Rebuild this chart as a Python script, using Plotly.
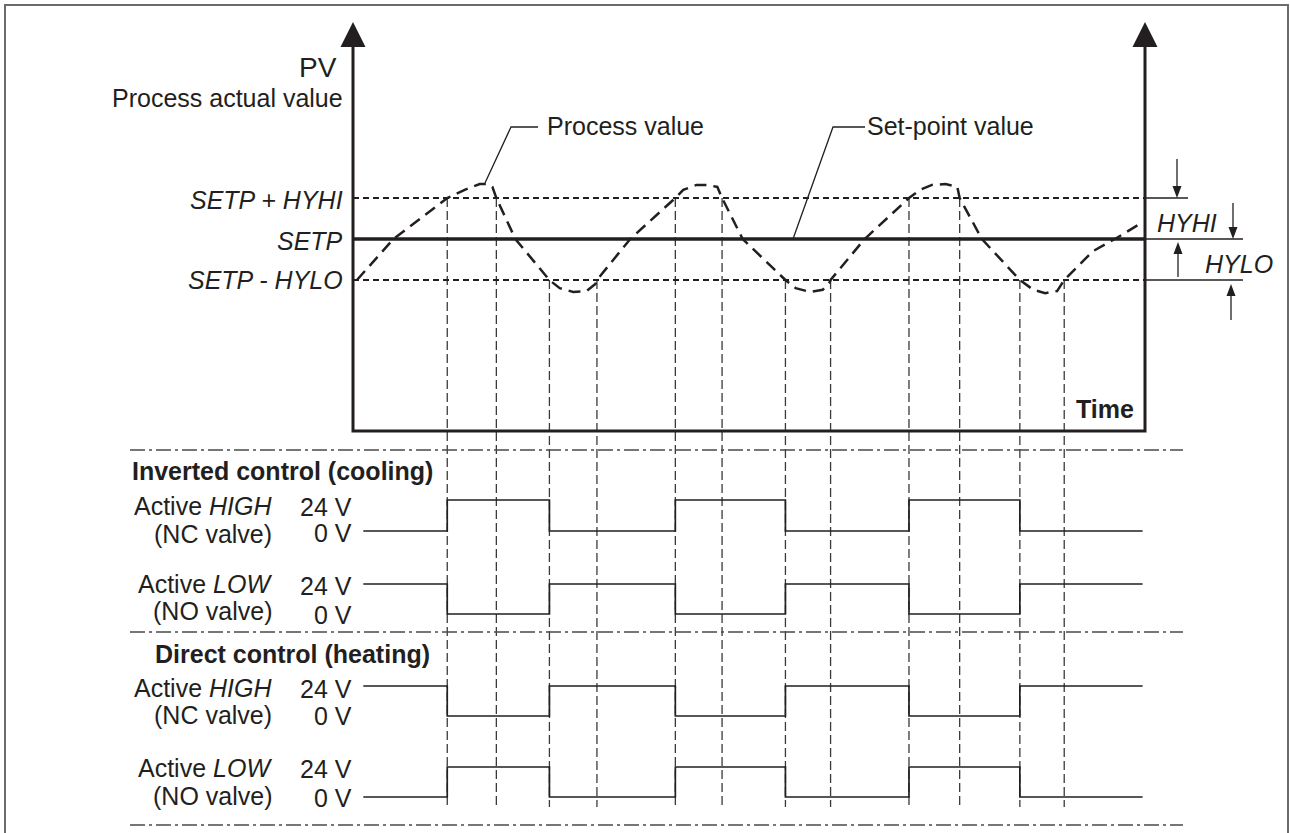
import plotly.graph_objects as go

# ---------------------------------------------------------------- data
# PV expressed relative to the set-point, in units of the hysteresis band
SETP = 0.0
HYHI = 1.0
HYLO = 1.0
level_values = [SETP + HYHI, SETP, SETP - HYLO]
level_labels = ["<i>SETP + HYHI</i>", "<i>SETP</i>", "<i>SETP - HYLO</i>"]

# Process value (dashed curve); time in % of the time window
pv_time = [0.5, 5.1, 11.9, 14.1, 16.0, 17.0, 17.6, 18.1, 20.5, 24.8, 26.1, 27.8,
           29.5, 30.6, 30.8, 35.0, 40.7, 41.7, 43.4, 44.7, 46.0, 46.6, 49.2, 54.6,
           55.9, 57.7, 59.3, 60.2, 60.3, 64.6, 70.2, 71.6, 73.1, 74.8, 76.3, 76.6,
           79.4, 84.2, 85.9, 87.4, 88.9, 89.8, 93.4, 96.2, 99.7]
pv_value = [-1.0, 0.0, 1.0, 1.2, 1.34, 1.34, 1.27, 1.0, 0.0, -1.0, -1.2, -1.29,
            -1.27, -1.1, -1.0, 0.0, 1.0, 1.2, 1.32, 1.32, 1.27, 1.0, 0.0, -1.0,
            -1.2, -1.29, -1.24, -1.05, -1.0, 0.0, 1.0, 1.2, 1.32, 1.34, 1.27, 1.0,
            0.0, -1.0, -1.24, -1.32, -1.27, -1.0, -0.3, 0.0, 0.41]

# Moments at which the process value crosses the hysteresis limits
switch_time = [11.9, 18.1, 24.8, 30.8, 40.7, 46.6, 54.6, 60.3, 70.2, 76.6, 84.2, 89.8]
switch_level = [SETP + HYHI, SETP + HYHI, SETP - HYLO, SETP - HYLO] * 3

# Output signals (volts) between successive edges
signal_edges = [1.3, 11.9, 24.8, 40.7, 54.6, 70.2, 84.2, 99.7]
inverted_active_high = [0, 24, 0, 24, 0, 24, 0]
inverted_active_low = [24, 0, 24, 0, 24, 0, 24]
direct_active_high = [24, 0, 24, 0, 24, 0, 24]
direct_active_low = [0, 24, 0, 24, 0, 24, 0]
signals = [inverted_active_high, inverted_active_low, direct_active_high, direct_active_low]
signal_mode = ["Active <i>HIGH</i>", "Active <i>LOW</i>", "Active <i>HIGH</i>", "Active <i>LOW</i>"]
signal_valve = ["(NC valve)", "(NO valve)", "(NC valve)", "(NO valve)"]
voltage_levels = [24, 0]
voltage_labels = ["24 V", "0 V"]
section_titles = ["<b>Inverted control (cooling)</b>", "<b>Direct control (heating)</b>"]

# ---------------------------------------------------------------- layout geometry
W, H = 1290, 833
FONT = "Liberation Sans, Arial, Helvetica, sans-serif"
INK = "#231f20"
GREY = "#4a4a4a"
T_ORIGIN_PX, T_SCALE = 353, 7.92      # px per time unit
PV_ORIGIN_PY, PV_SCALE = 239, 41      # px per PV unit
ROWS_PY = [(531, 500), (614, 584), (716, 686), (797, 767)]   # (0 V, 24 V) rows


def t_of(px):
    return (px - T_ORIGIN_PX) / T_SCALE


def pv_of(py):
    return (PV_ORIGIN_PY - py) / PV_SCALE


def X(px):
    return px / W


def Y(py):
    return 1 - py / H


PV_TOP, PV_BOTTOM, T_END = pv_of(47), pv_of(431), 100
GUIDE_BOTTOM = pv_of(807)

fig = go.Figure()


def add(x, y, yaxis="y", **kw):
    fig.add_trace(go.Scatter(x=x, y=y, mode="lines", yaxis=yaxis, hoverinfo="skip",
                             showlegend=False, **kw))


def head(t, tip, direction, length_px, half_px):
    base = tip - direction * length_px / PV_SCALE
    hw = half_px / T_SCALE
    add([t - hw, t + hw, t, t - hw], [base, base, tip, base], fill="toself",
        fillcolor=INK, line=dict(width=0, color=INK))


# vertical guides from the limit crossings down through the signal rows
gx, gy = [], []
for t, lv in zip(switch_time, switch_level):
    gx += [t, t, None]
    gy += [lv, GUIDE_BOTTOM, None]
add(gx, gy, line=dict(width=1.3, color="#3a3a3a", dash="9px,4px"))

# hysteresis limits
for lv in (level_values[0], level_values[2]):
    add([0, T_END], [lv, lv], line=dict(width=2, color=INK, dash="6px,4px"))

# set-point
add([0, T_END], [SETP, SETP], line=dict(width=3.5, color=INK))

# process value
add(pv_time, pv_value, line=dict(width=2.5, color=INK, dash="12px,7px"))

# axes frame + arrowheads
add([0, 0, T_END, T_END], [PV_TOP, PV_BOTTOM, PV_BOTTOM, PV_TOP], line=dict(width=3, color=INK))
for t in (0, T_END):
    head(t, pv_of(22), 1, 25, 12.5)

# dimension lines on the right
for lv, end_px in zip(level_values, (1188, 1243, 1243)):
    add([T_END, t_of(end_px)], [lv, lv], line=dict(width=1.3, color=INK))
for px, tip_py, tail_py, d in ((1177, 198, 159, -1), (1233, 239, 203, -1),
                               (1178, 242, 277, 1), (1231, 284, 320, 1)):
    add([t_of(px), t_of(px)], [pv_of(tail_py), pv_of(tip_py) - d * 6 / PV_SCALE],
        line=dict(width=1.3, color=INK))
    head(t_of(px), pv_of(tip_py), d, 12, 4.5)

# leader lines
for pts in (((538, 127), (511, 127), (485, 183)), ((865, 127), (833, 127), (793, 239))):
    add([t_of(p[0]) for p in pts], [pv_of(p[1]) for p in pts], line=dict(width=1.3, color=INK))

# output signals
for k, volts in enumerate(signals):
    add(signal_edges, volts + [volts[-1]], yaxis="y%d" % (k + 2),
        line=dict(width=1.7, color=INK, shape="hv"))

# ---------------------------------------------------------------- text
ann = []


def label(text, px, py, anchor="left", size=25):
    ann.append(dict(x=X(px), y=Y(py), xref="paper", yref="paper", text=text,
                    showarrow=False, xanchor=anchor, yanchor="middle", borderpad=0,
                    font=dict(family=FONT, size=size, color=INK)))


label("PV", 338, 68, "right", 28)
label("Process actual value", 344, 98, "right")
for txt, lv, py in zip(level_labels, level_values, (200, 241, 280)):
    label(txt, 344, py, "right")
label("Process value", 546, 126)
label("Set-point value", 866, 126)
label("<b>Time</b>", 1135, 409, "right")
label("<i>HYHI</i>", 1156, 223)
label("<i>HYLO</i>", 1204, 264)
label(section_titles[0], 131, 471)
label(section_titles[1], 154, 654)
mode_py = [(506, 534), (584, 611), (688, 715), (768, 796)]
volt_py = [(507, 533), (586, 615), (689, 716), (769, 798)]
for k in range(4):
    label(signal_mode[k], 273, mode_py[k][0], "right")
    label(signal_valve[k], 273, mode_py[k][1], "right")
    for txt, py in zip(voltage_labels, volt_py[k]):
        label(txt, 353, py, "right")

# ---------------------------------------------------------------- decorations
shapes = [dict(type="path", xref="paper", yref="paper",
               path="M %f %f L %f %f L %f %f L %f %f" % (X(5), Y(833), X(5), Y(5), X(1288), Y(5), X(1288), Y(833)),
               line=dict(color="#6b6b6b", width=2))]
for py in (450, 632, 825):
    shapes.append(dict(type="line", xref="paper", yref="paper", x0=X(130), x1=X(1183),
                       y0=Y(py), y1=Y(py), line=dict(color=GREY, width=1.5, dash="15px,4px,3px,4px")))

layout_axes = dict(
    xaxis=dict(range=[t_of(0), t_of(W)], domain=[0, 1], visible=False, fixedrange=True),
    yaxis=dict(range=[pv_of(H), pv_of(0)], domain=[0, 1], visible=False, fixedrange=True),
)
for k, (p0, p24) in enumerate(ROWS_PY):
    vpp = 24 / (p0 - p24)
    layout_axes["yaxis%d" % (k + 2)] = dict(range=[-(H - p0) * vpp, p0 * vpp], overlaying="y",
                                            visible=False, fixedrange=True)

fig.update_layout(width=W, height=H, margin=dict(l=0, r=0, t=0, b=0),
                  paper_bgcolor="white", plot_bgcolor="white", showlegend=False,
                  annotations=ann, shapes=shapes, **layout_axes)

fig.write_html("out.html", config={"displayModeBar": False},
               post_script="document.body.style.margin='0';document.body.style.overflow='hidden';")
